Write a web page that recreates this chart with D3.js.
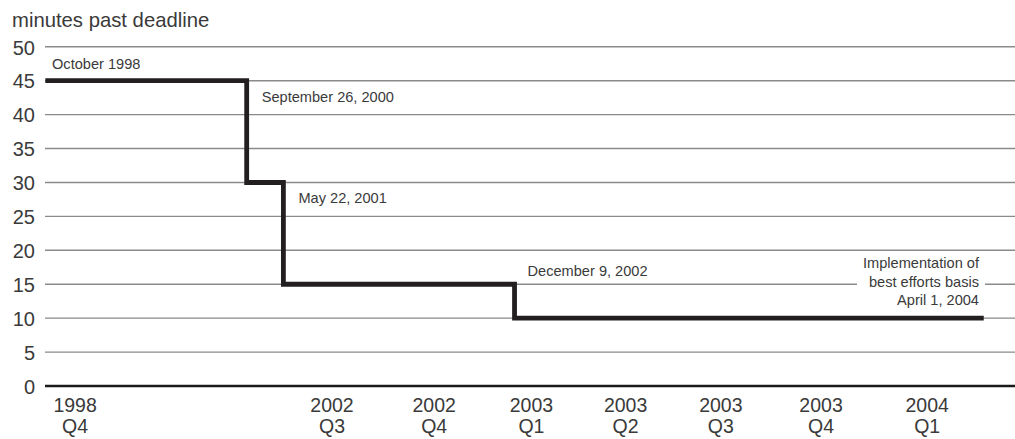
<!DOCTYPE html>
<html><head><meta charset="utf-8">
<script src="https://cdn.jsdelivr.net/npm/d3@7"></script>
<style>
html,body{margin:0;padding:0;background:#fff;}
svg text{font-family:"Liberation Sans",Arial,Helvetica,sans-serif;fill:#3a3a3a;}
</style></head>
<body>
<svg id="chart" width="1015" height="439"></svg>
<script>
// ---- data ----
const title = "minutes past deadline";
const yTicks = [0, 5, 10, 15, 20, 25, 30, 35, 40, 45, 50];
// x axis is in quarter units (2002 Q3 = 0); the axis is compressed before 2002
const xTickYears = ["1998", "2002", "2002", "2003", "2003", "2003", "2003", "2004"];
const xTickQuarters = ["Q4", "Q3", "Q4", "Q1", "Q2", "Q3", "Q4", "Q1"];
const xTickPos = [-2.59, 0, 1.03, 2.01, 2.96, 3.92, 4.93, 6.0];
// step series: deadline changes
const stepPos = [-2.89, -0.86, -0.49, 1.84, 6.57];
const stepMinutes = [45, 30, 15, 10, 10];
const eventLabels = ["October 1998", "September 26, 2000", "May 22, 2001", "December 9, 2002", "Implementation of|best efforts basis|April 1, 2004"];

// ---- layout ----
const svg = d3.select("#chart");
const x = d3.scaleLinear().domain([-3, 7]).range([34.4, 1026.4]);
const y = d3.scaleLinear().domain([0, 50]).range([386, 46.8]);
const gridX0 = 45, gridX1 = 1015;

// title
svg.append("text").attr("x", 12).attr("y", 27).attr("font-size", 20.3).text(title);

// gridlines
svg.append("g").selectAll("line").data(yTicks.filter(d => d > 0)).join("line")
  .attr("x1", gridX0).attr("x2", gridX1)
  .attr("y1", d => y(d)).attr("y2", d => y(d))
  .attr("stroke", "#8a8a8a").attr("stroke-width", 1.4);

// y axis labels via d3 axis
const yAxis = svg.append("g").attr("transform", `translate(${gridX0},0)`)
  .call(d3.axisLeft(y).tickValues(yTicks).tickSize(0).tickPadding(10));
yAxis.select(".domain").remove();
yAxis.selectAll("text").attr("font-size", 20).attr("font-family", null).attr("fill", null).attr("dy", "0.36em");

// zero baseline
svg.append("line").attr("x1", gridX0).attr("x2", gridX1)
  .attr("y1", y(0)).attr("y2", y(0)).attr("stroke", "#1a1a1a").attr("stroke-width", 2.4);

// x axis labels
const xg = svg.append("g");
xTickPos.forEach((p, i) => {
  const t = xg.append("text").attr("text-anchor", "middle").attr("font-size", 19.5);
  t.append("tspan").attr("x", x(p)).attr("y", 411.5).text(xTickYears[i]);
  t.append("tspan").attr("x", x(p)).attr("y", 433).text(xTickQuarters[i]);
});

// step line
const pts = [];
stepPos.forEach((p, i) => {
  if (i > 0) pts.push([p, stepMinutes[i - 1]]);
  pts.push([p, stepMinutes[i]]);
});
svg.append("path").datum(pts)
  .attr("d", d3.line().x(d => x(d[0])).y(d => y(d[1])))
  .attr("fill", "none").attr("stroke", "#231f20").attr("stroke-width", 4.8)
  .attr("stroke-linejoin", "miter");

// annotations
const fs = 14.6;
svg.append("text").attr("x", 52).attr("y", 69).attr("font-size", fs).text(eventLabels[0]);
svg.append("text").attr("x", x(stepPos[1]) + 15).attr("y", 101.5).attr("font-size", fs).text(eventLabels[1]);
svg.append("text").attr("x", x(stepPos[2]) + 15).attr("y", 203).attr("font-size", fs).text(eventLabels[2]);
svg.append("text").attr("x", x(stepPos[3]) + 13).attr("y", 276).attr("font-size", fs).text(eventLabels[3]);
// last label with white knockout
const lastLines = eventLabels[4].split("|");
svg.append("rect").attr("x", 857).attr("y", 256).attr("width", 128).attr("height", 54).attr("fill", "#fff");
const lt = svg.append("text").attr("text-anchor", "end").attr("font-size", fs);
lastLines.forEach((s, i) => lt.append("tspan").attr("x", 979).attr("y", 268 + i * 18.7).text(s));
</script>
</body></html>
